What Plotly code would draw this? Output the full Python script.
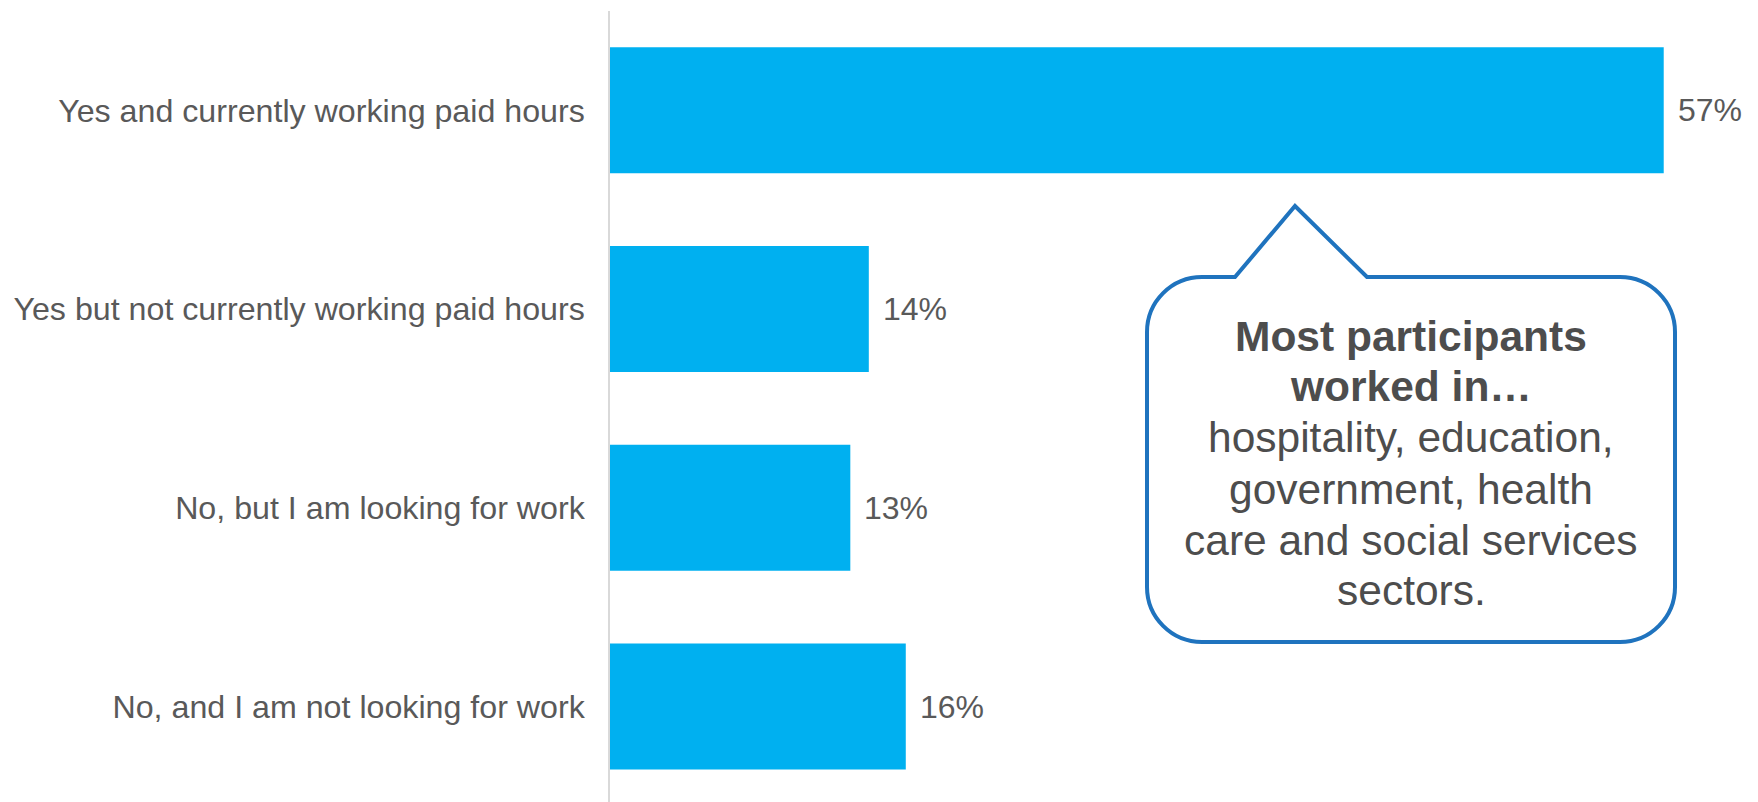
import plotly.graph_objects as go

W, H = 1758, 802

categories = [
    "Yes and currently working paid hours",
    "Yes but not currently working paid hours",
    "No, but I am looking for work",
    "No, and I am not looking for work",
]
values = [57, 14, 13, 16]
value_labels = ["57%", "14%", "13%", "16%"]

callout_lines = [
    ("<b>Most participants</b>", 336),
    ("<b>worked in…</b>", 386),
    ("hospitality, education,", 438),
    ("government, health", 489),
    ("care and social services", 540),
    ("sectors.", 590),
]

BAR_COLOR = "#00B0F0"
TEXT_COLOR = "#595959"
CALLOUT_TEXT = "#4d4d4d"
CALLOUT_LINE = "#1f73be"
FONT = "Liberation Sans, Arial, sans-serif"

fig = go.Figure()
fig.add_trace(go.Bar(
    x=values, y=categories, orientation="h",
    marker=dict(color=BAR_COLOR, line=dict(width=0)),
    width=0.634, hoverinfo="skip",
))

for v, c, t in zip(values, categories, value_labels):
    fig.add_annotation(x=v, y=c, xref="x", yref="y", text=t, showarrow=False,
                       xanchor="left", yanchor="middle", xshift=12,
                       font=dict(size=32, color=TEXT_COLOR, family=FONT))


def px(x, y):
    return f"{x / W:.5f},{1 - y / H:.5f}"


# speech-bubble callout (pixel geometry -> paper coords)
L, R, T, B, r = 1147, 1675, 277, 642, 55
k = 0.5523 * r
path = (
    f"M {px(L + r, T)} L {px(1235, T)} L {px(1295, 206)} L {px(1367, T)} "
    f"L {px(R - r, T)} C {px(R - r + k, T)} {px(R, T + r - k)} {px(R, T + r)} "
    f"L {px(R, B - r)} C {px(R, B - r + k)} {px(R - r + k, B)} {px(R - r, B)} "
    f"L {px(L + r, B)} C {px(L + r - k, B)} {px(L, B - r + k)} {px(L, B - r)} "
    f"L {px(L, T + r)} C {px(L, T + r - k)} {px(L + r - k, T)} {px(L + r, T)} Z"
)
fig.add_shape(type="path", path=path, xref="paper", yref="paper",
              line=dict(color=CALLOUT_LINE, width=4), fillcolor="white", layer="above")

for text, yc in callout_lines:
    fig.add_annotation(x=1411 / W, y=1 - yc / H, xref="paper", yref="paper",
                       text=text, showarrow=False, xanchor="center", yanchor="middle",
                       font=dict(size=42.5, color=CALLOUT_TEXT, family=FONT))

fig.update_layout(
    width=W, height=H,
    margin=dict(l=0, r=0, t=0, b=0),
    paper_bgcolor="white", plot_bgcolor="white",
    showlegend=False,
    font=dict(family=FONT, color=TEXT_COLOR),
    xaxis=dict(domain=[610 / W, 1], range=[0, 62.1], visible=False,
               showgrid=False, zeroline=False, fixedrange=True),
    yaxis=dict(domain=[0, 1 - 11 / H], range=[3.48, -0.5], type="category",
               categoryorder="array", categoryarray=categories,
               showline=True, linecolor="#d9d9d9", linewidth=1.5,
               showgrid=False, zeroline=False, ticks="", automargin=False,
               ticklabelstandoff=17,
               tickfont=dict(size=32.2, color=TEXT_COLOR, family=FONT)),
)

fig.write_html("out.html", config={"displayModeBar": False},
               post_script="document.body.style.margin='0';document.body.style.overflow='hidden';")
